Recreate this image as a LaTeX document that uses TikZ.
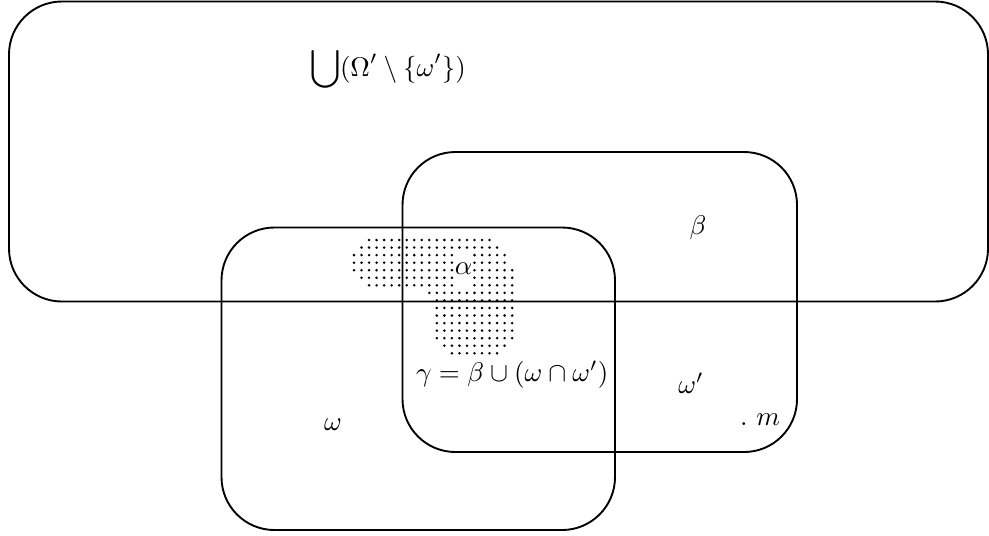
\documentclass[tikz,border=0pt]{standalone}
\begin{document}
\begin{tikzpicture}[x=0.3704pt,y=-0.3704pt,
  setbox/.style={draw=black,line width=0.7pt,rounded corners=19.6pt},
  lbl/.style={inner sep=0pt,outer sep=0pt},
  dotfill/.style={fill=black}]
\useasboundingbox (0,0) rectangle (989,535);
% dotted region
\foreach \r/\a/\b in {0/2/18,1/1/19,2/0/20,3/0/20,4/0/21,5/1/21,6/2/21,7/10/21,8/11/21,9/11/21,10/11/21,11/11/21,12/11/21,13/11/21,14/12/20,15/13/19}{
  \foreach \c in {\a,...,\b}{
    \fill[dotfill] ({354+7.53*\c},{240+7.55*\r}) circle[radius=0.52pt];
  }
}
\node[lbl,fill=white,minimum width=6.7pt,minimum height=14.5pt] (alpha) at (463.5,269) {$\alpha$};
% sets
\draw[setbox] (9,1.5) rectangle (988,301.5);
\draw[setbox] (221.5,227.5) rectangle (615,530);
\draw[setbox] (402.5,152) rectangle (797,452);
% labels
\node[lbl,anchor=base west] (union) at (310,76) {$\displaystyle\bigcup(\Omega'\setminus\{\omega'\})$};
\node[lbl] (beta) at (698,228) {$\beta$};
\node[lbl,anchor=base west] (gamma) at (416,381) {$\gamma=\beta\cup(\omega\cap\omega')$};
\node[lbl] (omegap) at (691,383) {$\omega'$};
\node[lbl] (omega) at (333,425) {$\omega$};
\node[lbl,anchor=base west] (m) at (740,425) {$.\ m$};
\end{tikzpicture}
\end{document}
